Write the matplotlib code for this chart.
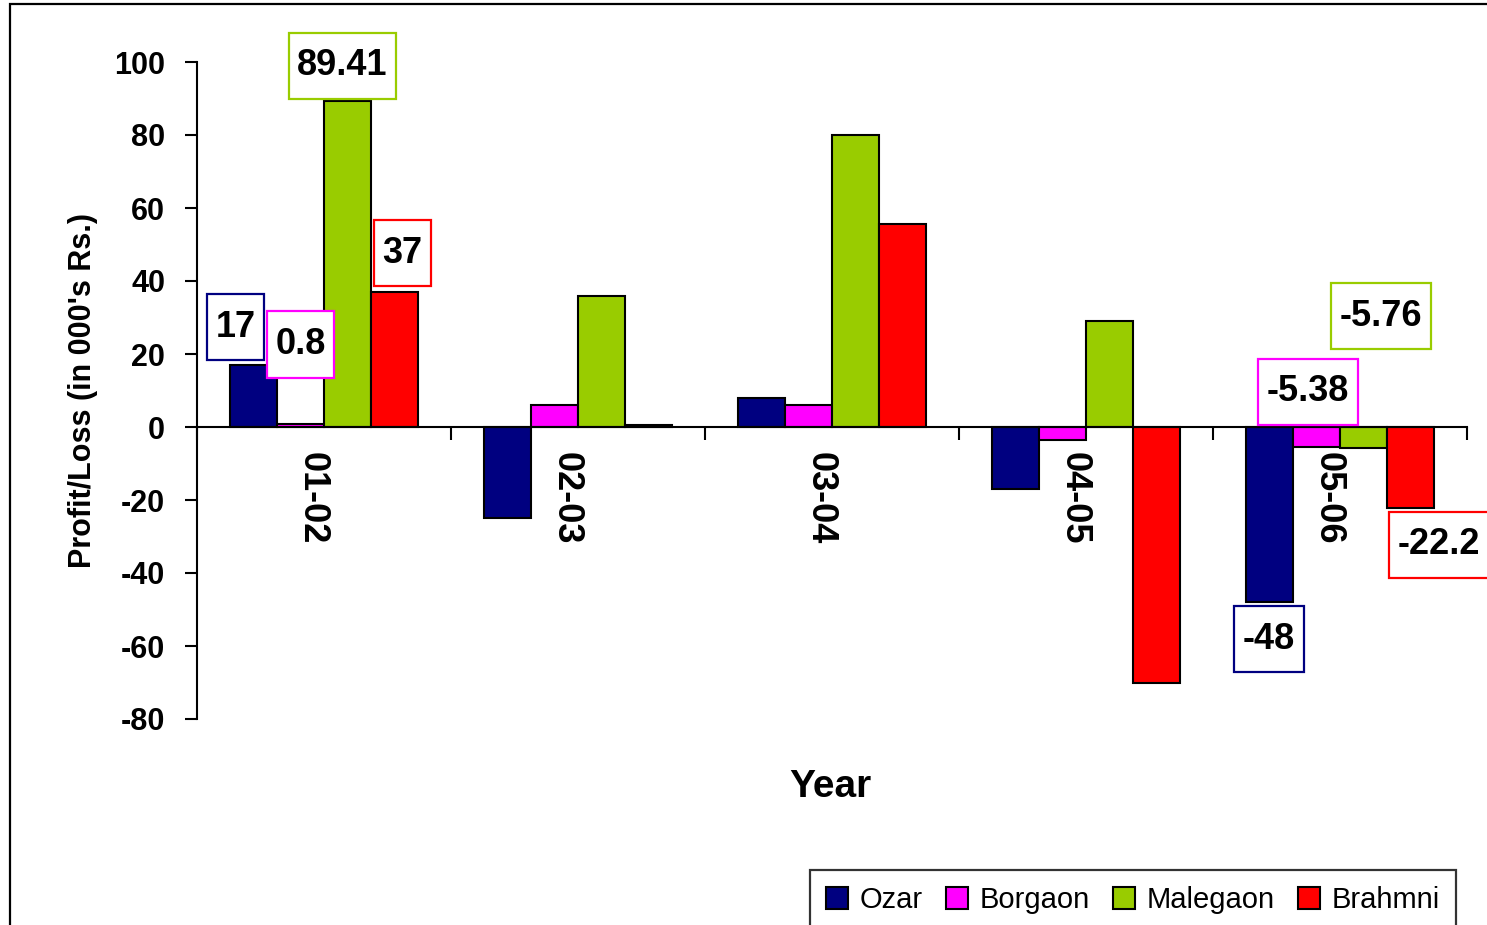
import matplotlib
matplotlib.use("Agg")
import matplotlib.pyplot as plt
from matplotlib.patches import Rectangle
from matplotlib.path import Path
from matplotlib.ticker import FixedLocator, NullFormatter, FixedFormatter
import numpy as np

# ---- data -------------------------------------------------------------
years = ["01-02", "02-03", "03-04", "04-05", "05-06"]
ozar = [17, -25, 8, -17, -48]
borgaon = [0.8, 6, 6, -3.5, -5.38]
malegaon = [89.41, 36, 80, 29, -5.76]
brahmni = [37, 0.5, 55.5, -70, -22.2]

series_names = ["Ozar", "Borgaon", "Malegaon", "Brahmni"]
series_values = [ozar, borgaon, malegaon, brahmni]
series_colors = ["#000080", "#FF00FF", "#99CC00", "#FF0000"]

# value call-outs: (series index, year index)
callouts = [(0, 0), (1, 0), (2, 0), (3, 0), (0, 4), (1, 4), (2, 4), (3, 4)]
# where each call-out box sits: (x offset from group centre, y in data units)
callout_pos = [(-0.348, 27.3), (-0.093, 22.6), (0.073, 99.0), (0.309, 47.6),
               (-0.280, -58.2), (-0.126, 9.6), (0.160, 30.3), (0.390, -32.3)]

y_ticks = list(range(-80, 101, 20))


class PaddedRect:
    """Square box with separate horizontal / vertical padding."""

    def __init__(self, padx, pady):
        self.padx = padx
        self.pady = pady

    def __call__(self, x0, y0, width, height, mutation_size):
        px = self.padx * mutation_size
        py = self.pady * mutation_size
        x0, y0 = x0 - px, y0 - py
        x1, y1 = x0 + width + 2 * px, y0 + height + 2 * py
        return Path([(x0, y0), (x1, y0), (x1, y1), (x0, y1), (x0, y0)], closed=True)


# ---- figure -----------------------------------------------------------
plt.rcParams["font.family"] = ["Liberation Sans", "DejaVu Sans"]

fig = plt.figure(figsize=(14.87, 9.25), dpi=100)
W, H = 1487, 925
ax = fig.add_axes([197 / W, 1 - 719 / H, (1467 - 197) / W, (719 - 62) / H])

# outer frame around the whole chart area
fig.patches.append(Rectangle((10 / W, -0.2), 1.2, 1 - 4 / H + 0.2,
                             transform=fig.transFigure, fill=False,
                             edgecolor="black", linewidth=1.6, zorder=0))

x = np.arange(len(years))
bw = 0.185
bars = []
for i, (name, vals, col) in enumerate(zip(series_names, series_values, series_colors)):
    b = ax.bar(x + (i - 1.5) * bw, vals, width=bw, color=col,
               edgecolor="black", linewidth=1.5, label=name, zorder=3)
    bars.append(b)

for (si, yi), (dx, ty) in zip(callouts, callout_pos):
    val = series_values[si][yi]
    ax.text(yi + dx, ty, f"{val:g}", ha="center", va="center",
            fontsize=26, fontweight="bold", zorder=5,
            bbox=dict(boxstyle=PaddedRect(0.24, 0.43), facecolor="white",
                      edgecolor=series_colors[si], linewidth=1.6))

ax.set_xlim(-0.5, len(years) - 0.5)
ax.set_ylim(-80, 100)

for s in ["top", "right"]:
    ax.spines[s].set_visible(False)
ax.spines["bottom"].set_position(("data", 0))
ax.spines["bottom"].set_linewidth(1.5)
ax.spines["bottom"].set_zorder(4)
ax.spines["left"].set_linewidth(1.5)

ax.set_yticks(y_ticks)
ax.set_yticklabels([str(v) for v in y_ticks], fontsize=22, fontweight="bold")
ax.tick_params(axis="y", direction="out", length=9, width=1.5, pad=14)

# boundary ticks hang below the zero line; year names sit between them
ax.xaxis.set_major_locator(FixedLocator(np.arange(-0.5, len(years), 1.0)))
ax.xaxis.set_major_formatter(NullFormatter())
ax.xaxis.set_minor_locator(FixedLocator(x - 0.045))
ax.xaxis.set_minor_formatter(FixedFormatter(years))
ax.tick_params(axis="x", which="major", direction="out", length=9, width=1.5)
ax.tick_params(axis="x", which="minor", length=0, pad=18)
for lab in ax.get_xticklabels(minor=True):
    lab.set_rotation(270)
    lab.set_fontsize(26)
    lab.set_fontweight("bold")
    lab.set_va("top")
    lab.set_ha("center")

ax.set_ylabel("Profit/Loss (in 000's Rs.)", fontsize=22, fontweight="bold", va="center")
ax.yaxis.set_label_coords(-0.0895, 0.5)
ax.set_xlabel("Year", fontsize=28, fontweight="bold", va="center")
ax.xaxis.set_label_coords(0.4985, -0.104)

leg = fig.legend(handles=bars, labels=series_names, loc="upper left",
                 bbox_to_anchor=(810 / W, 1 - 870 / H), ncol=4, frameon=True,
                 fancybox=False, fontsize=21, handlelength=0.75, handleheight=0.75,
                 handletextpad=0.4, columnspacing=0.8, borderpad=0.55,
                 borderaxespad=0)
leg.get_frame().set_edgecolor("black")
leg.get_frame().set_linewidth(1.6)

fig.savefig("out.png", dpi=100)
